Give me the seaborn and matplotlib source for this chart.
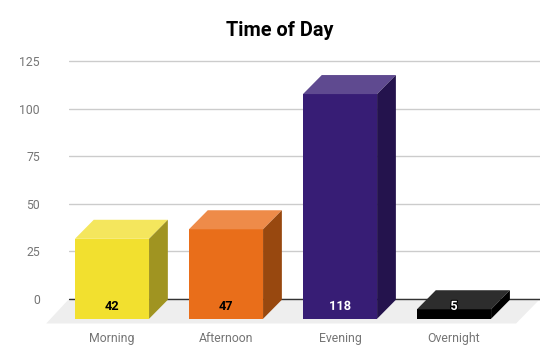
import matplotlib
matplotlib.use("Agg")
import matplotlib.pyplot as plt
import matplotlib.patheffects as pe
from matplotlib.patches import Polygon
import pandas as pd
import seaborn as sns

# data
categories = ["Morning", "Afternoon", "Evening", "Overnight"]
values = [42, 47, 118, 5]
y_ticks = [0, 25, 50, 75, 100, 125]

front_colors = ["#f2e02f", "#e96e1a", "#371d75", "#000000"]
top_colors = ["#f4e65d", "#ee8b49", "#5f4a90", "#2d2d2d"]
side_colors = ["#a09421", "#98480f", "#24134d", "#000000"]
label_colors = ["#000000", "#000000", "#ffffff", "#ffffff"]

sns.set_theme(style="white")
plt.rcParams["font.family"] = ["Roboto", "DejaVu Sans"]

W, H = 558, 363
fig = plt.figure(figsize=(W / 100, H / 100), dpi=100)
ax = fig.add_axes([69 / W, 1 - 323.5 / H, 471 / W, 263.5 / H])

# depth of the fake 3D boxes, in data units
depth_x = 0.165
depth_y = 10
base = -10.4
y_low = -12.87

df = pd.DataFrame({"part": categories, "count": values})
sns.barplot(data=df, x="part", y="count", hue="part", palette=front_colors,
            legend=False, width=0.65, bottom=base, saturation=1,
            linewidth=0, zorder=3, ax=ax)
bars = list(ax.patches)

ax.set_xlim(-0.377, 3.754)
ax.set_ylim(y_low, 125.5)
ax.set_yticks(y_ticks)
ax.set_xlabel("")
ax.set_ylabel("")
sns.despine(ax=ax, left=True, bottom=True, top=True, right=True)
ax.grid(axis="y", color="#cccccc", linewidth=1, zorder=0)
ax.grid(axis="x", visible=False)
ax.tick_params(axis="y", length=0, pad=21, labelsize=8.8, labelcolor="#757575")
ax.tick_params(axis="x", length=0, pad=6, labelsize=8.8, labelcolor="#757575")

# floor and zero line
x0, x1 = ax.get_xlim()
ax.add_patch(Polygon([(x0, 0), (x1, 0), (x1 - 0.21, y_low), (x0 - 0.2, y_low)],
                     closed=True, facecolor="#eeeeee", edgecolor="none",
                     zorder=1, clip_on=False))
ax.axhline(0, color="#333333", linewidth=1, zorder=2)

# top and side faces, taken from the bars seaborn drew
for bar, top_c, side_c in zip(bars, top_colors, side_colors):
    left = bar.get_x()
    right = left + bar.get_width()
    low = bar.get_y()
    high = low + bar.get_height()
    ax.add_patch(Polygon([(left, high), (right, high),
                          (right + depth_x, high + depth_y), (left + depth_x, high + depth_y)],
                         closed=True, facecolor=top_c, edgecolor="none", zorder=3))
    ax.add_patch(Polygon([(right, low), (right + depth_x, low + depth_y),
                          (right + depth_x, high + depth_y), (right, high)],
                         closed=True, facecolor=side_c, edgecolor="none", zorder=3))

# value labels sit at the foot of each bar
for i, (val, col) in enumerate(zip(values, label_colors)):
    txt = ax.text(i, -3.9, str(val), ha="center", va="center", color=col,
                  fontsize=9.2, fontweight="bold", zorder=5)
    if col == "#ffffff":
        txt.set_path_effects([pe.withStroke(linewidth=1.5, foreground=front_colors[i])])

fig.text(279.5 / W, 1 - 30 / H, "Time of Day", ha="center", va="center",
         fontsize=14.3, fontweight="bold", color="#000000")

fig.savefig("out.png", dpi=100)
